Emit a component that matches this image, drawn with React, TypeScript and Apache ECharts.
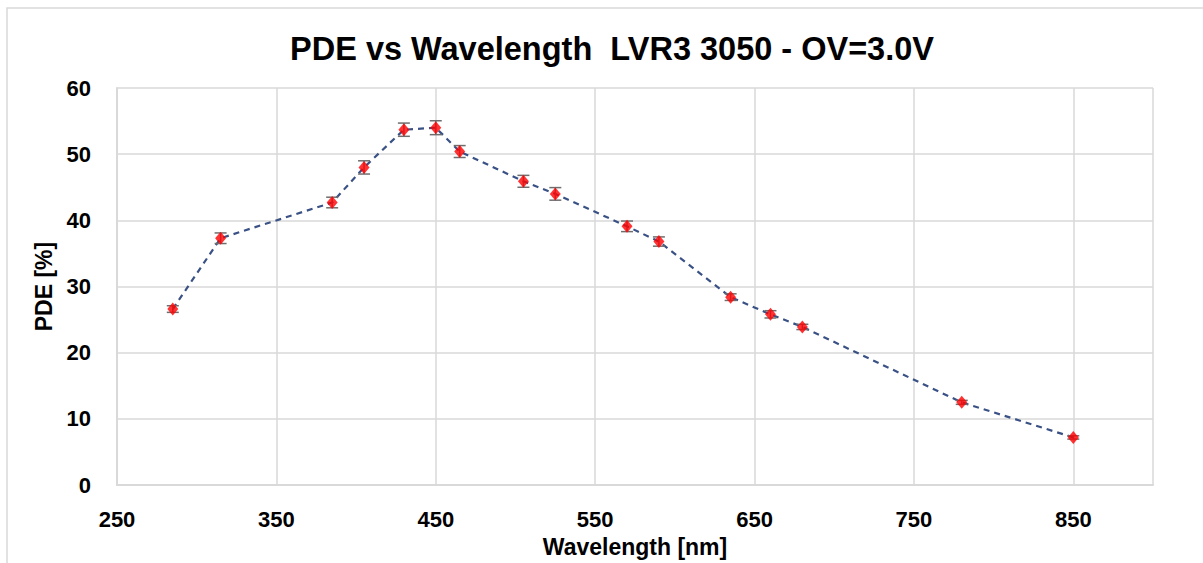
import React, { useEffect, useRef } from "react";
import * as echarts from "echarts";

const titleText = "PDE vs Wavelength  LVR3 3050 - OV=3.0V";
const xAxisName = "Wavelength [nm]";
const yAxisName = "PDE [%]";

const wavelengths = [285, 315, 385, 405, 430, 450, 465, 505, 525, 570, 590, 635, 660, 680, 780, 850];
const pdeValues = [26.6, 37.3, 42.7, 48.0, 53.7, 54.0, 50.4, 45.9, 44.0, 39.1, 36.8, 28.4, 25.8, 23.9, 12.5, 7.2];
const pdeErrors = [0.5, 0.8, 0.8, 1.0, 1.0, 1.05, 0.9, 0.9, 0.95, 0.8, 0.7, 0.5, 0.55, 0.4, 0.3, 0.25];

const FONT = "'Liberation Sans', Arial, sans-serif";

export default function App() {
  const ref = useRef<HTMLDivElement>(null);

  useEffect(() => {
    if (!ref.current) return;
    const chart = echarts.init(ref.current, undefined, { renderer: "svg" });

    const points = wavelengths.map((w, i) => [w, pdeValues[i]]);
    const errData = wavelengths.map((w, i) => [w, pdeValues[i] - pdeErrors[i], pdeValues[i] + pdeErrors[i]]);

    const option: any = {
      animation: false,
      backgroundColor: "#ffffff",
      textStyle: { fontFamily: FONT },
      title: {
        text: titleText,
        left: 607,
        textAlign: "center",
        top: 27,
        textStyle: { fontFamily: FONT, fontSize: 32.5, fontWeight: "bold", color: "#000000" },
      },
      graphic: [
        {
          type: "rect",
          shape: { x: 7, y: 8, width: 1300, height: 700 },
          style: { fill: "none", stroke: "#d9d9d9", lineWidth: 1.5 },
          silent: true,
          z: -10,
        },
      ],
      grid: { left: 117, right: 50, top: 88, bottom: 77 },
      xAxis: {
        type: "value",
        min: 250,
        max: 900,
        interval: 100,
        name: xAxisName,
        nameLocation: "middle",
        nameGap: 49,
        nameTextStyle: { fontFamily: FONT, fontSize: 23, fontWeight: "bold", color: "#000000" },
        axisLine: { show: true, lineStyle: { color: "#d9d9d9", width: 2 } },
        axisTick: { show: false },
        axisLabel: {
          showMaxLabel: false,
          margin: 23,
          fontFamily: FONT,
          fontSize: 22,
          fontWeight: "bold",
          color: "#000000",
        },
        splitLine: { show: true, lineStyle: { color: "#d9d9d9", width: 1.5 } },
      },
      yAxis: {
        type: "value",
        min: 0,
        max: 60,
        interval: 10,
        name: yAxisName,
        nameLocation: "middle",
        nameGap: 62,
        nameRotate: 90,
        nameTextStyle: { fontFamily: FONT, fontSize: 23, fontWeight: "bold", color: "#000000" },
        axisLine: { show: true, lineStyle: { color: "#d9d9d9", width: 2 } },
        axisTick: { show: false },
        axisLabel: {
          margin: 26,
          fontFamily: FONT,
          fontSize: 22,
          fontWeight: "bold",
          color: "#000000",
        },
        splitLine: { show: true, lineStyle: { color: "#d9d9d9", width: 1.5 } },
      },
      series: [
        {
          type: "line",
          data: points,
          symbol: "none",
          lineStyle: { color: "#3a5185", width: 2.2, type: [6, 5] },
          z: 2,
        },
        {
          type: "custom",
          data: errData,
          z: 3,
          renderItem: (params: any, api: any) => {
            const x = api.value(0);
            const lo = api.coord([x, api.value(1)]);
            const hi = api.coord([x, api.value(2)]);
            const hw = 6;
            const style = { stroke: "#6e6e6e", lineWidth: 1.5 };
            return {
              type: "group",
              children: [
                { type: "line", shape: { x1: lo[0], y1: lo[1], x2: hi[0], y2: hi[1] }, style },
                { type: "line", shape: { x1: lo[0] - hw, y1: lo[1], x2: lo[0] + hw, y2: lo[1] }, style },
                { type: "line", shape: { x1: hi[0] - hw, y1: hi[1], x2: hi[0] + hw, y2: hi[1] }, style },
              ],
            };
          },
        },
        {
          type: "scatter",
          data: points,
          symbol: "diamond",
          symbolSize: [11, 13],
          itemStyle: { color: "#ff0000" },
          z: 4,
        },
      ],
    };

    chart.setOption(option);
    return () => chart.dispose();
  }, []);

  return (
    <div
      ref={ref}
      style={{ position: "absolute", left: 0, top: 0, width: 1203, height: 563 }}
    />
  );
}
